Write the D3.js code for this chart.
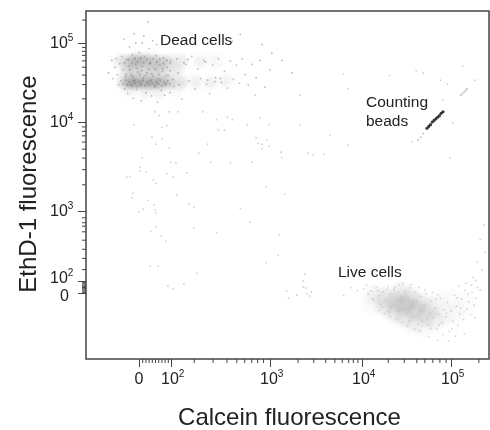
<!DOCTYPE html>
<html>
<head>
<meta charset="utf-8">
<script src="https://cdn.jsdelivr.net/npm/d3@7"></script>
<style>
  body { margin: 0; background: #fff; }
  text { font-family: "Liberation Sans", Arial, sans-serif; fill: #222; }
</style>
</head>
<body>
<div id="chart"></div>
<script>
// All values are in display channels: 0 = zero, 2 = 10^2, 3 = 10^3 ... (biexponential axis)
const xMajor = [0, 2, 3, 4, 5];
const xLabels = [["0", ""], ["10", "2"], ["10", "3"], ["10", "4"], ["10", "5"]];
const xMinor = [0.2, 0.4, 0.6, 0.8, 1, 1.2, 1.4, 1.6, 1.8,
  2.23, 2.42, 2.56, 2.66, 2.74, 2.81, 2.87, 2.93,
  3.3, 3.47, 3.6, 3.7, 3.78, 3.85, 3.9, 3.95,
  4.29, 4.47, 4.61, 4.7, 4.79, 4.87, 4.94, 5.31];

const yMajor = [0, 2, 3, 4, 5];
const yLabels = [["0", ""], ["10", "2"], ["10", "3"], ["10", "4"], ["10", "5"]];
const yMinor = [0.2, 0.4, 0.6, 0.8, 1, 1.2, 1.4, 1.6, 1.8,
  2.17, 2.33, 2.46, 2.59, 2.71, 2.79, 2.84, 2.91,
  3.3, 3.47, 3.6, 3.7, 3.78, 3.85, 3.9, 3.95,
  4.3, 4.48, 4.6, 4.7, 4.78, 4.85, 4.9, 4.95, 5.3];

// Smoothed population density, [calcein, ethd, weight]
const deadDensity = [
  [-0.9, 4.5, 0.5], [-0.5, 4.5, 0.8], [-0.1, 4.5, 0.85], [0.4, 4.5, 0.8], [0.9, 4.5, 0.85], [1.4, 4.5, 0.7],
  [1.9, 4.5, 0.55], [2.1, 4.5, 0.35], [2.25, 4.5, 0.2], [2.4, 4.5, 0.18], [2.55, 4.52, 0.18],
  [-1.3, 4.77, 0.15], [-0.9, 4.77, 0.3], [-0.5, 4.77, 0.5], [-0.1, 4.78, 0.65], [0.4, 4.78, 0.6], [0.9, 4.77, 0.55],
  [1.4, 4.76, 0.5], [1.9, 4.76, 0.35], [2.1, 4.77, 0.25], [2.3, 4.77, 0.18], [2.45, 4.77, 0.12],
  [-0.8, 4.65, 0.35], [-0.3, 4.65, 0.45], [0.3, 4.65, 0.45], [0.9, 4.65, 0.45], [1.5, 4.65, 0.4], [2.05, 4.65, 0.28],
  [-0.6, 4.4, 0.12], [0.4, 4.38, 0.18], [1.2, 4.38, 0.18], [2.05, 4.4, 0.1]
];
const liveDensity = [
  [4.15, -0.33, 0.2], [4.26, -0.83, 0.3], [4.37, -1.5, 0.45], [4.48, -2, 0.6], [4.6, -2.83, 0.5], [4.71, -3.67, 0.38],
  [4.82, -4.5, 0.28], [4.26, -2.2, 0.3], [4.37, -3.2, 0.38], [4.48, -4, 0.38], [4.6, -5, 0.28], [4.43, 0, 0.3],
  [4.54, -0.9, 0.4], [4.65, -1.7, 0.32], [4.76, -2.5, 0.28], [4.93, -3.4, 0.14], [5.04, -3.4, 0.1], [5.16, -2, 0.07],
  [4.12, -1.8, 0.1], [4.7, -5.6, 0.12], [4.85, -1.6, 0.1], [5, -1, 0.08]
];

// Individual events
const deadEvents = [
  [-1.9, 4.62], [-1.7, 4.78], [-1.62, 4.55], [-1.5, 4.69], [-1.44, 4.8], [-1.35, 4.6], [-1.28, 4.47], [-1.2, 4.74],
  [-1.12, 4.52], [-1.06, 4.83], [-0.98, 4.66], [-0.9, 4.42], [-0.84, 4.57], [-0.76, 4.79], [-0.7, 4.36], [-0.62, 4.71],
  [-0.55, 4.47], [-0.49, 4.6], [-0.41, 4.85], [-0.35, 4.3], [-0.27, 4.53], [-0.2, 4.73], [-0.14, 4.41], [-0.07, 4.63],
  [0.02, 4.88], [0.08, 4.46], [0.14, 4.27], [0.21, 4.7], [0.29, 4.56], [0.36, 4.82], [0.43, 4.37], [0.5, 4.62],
  [0.58, 4.51], [0.64, 4.93], [0.71, 4.75], [0.79, 4.33], [0.86, 4.58], [0.94, 4.68], [1.01, 4.44], [1.08, 4.84],
  [1.15, 4.25], [1.23, 4.55], [1.31, 4.72], [1.38, 4.4], [1.46, 4.64], [1.53, 4.81], [1.6, 4.34], [1.69, 4.49],
  [1.77, 4.69], [1.85, 4.59], [1.92, 4.37], [1.98, 4.78], [2.03, 4.45], [2.07, 4.62], [2.11, 4.29], [2.15, 4.73],
  [2.18, 4.52], [2.21, 4.83], [2.24, 4.42], [2.27, 4.67], [2.3, 4.55], [2.33, 4.78], [2.36, 4.48], [2.39, 4.36],
  [2.42, 4.72], [2.45, 4.56], [2.48, 4.8], [2.51, 4.5], [2.54, 4.64], [2.57, 4.43], [2.6, 4.77], [2.63, 4.54],
  [2.66, 4.72], [2.69, 4.49], [2.72, 4.8], [2.75, 4.6], [2.78, 4.47], [2.82, 4.73], [2.86, 4.56], [2.9, 4.78],
  [2.95, 4.44], [3.0, 4.66], [-0.95, 5.05], [-0.6, 4.95], [-0.3, 5.12], [0.2, 5.0], [0.55, 5.27], [0.85, 5.03],
  [1.1, 4.98], [1.45, 5.05], [2.62, 5.02], [2.7, 5.11], [2.92, 4.98], [3.02, 4.87], [3.13, 4.78], [3.24, 4.62],
  [-0.2, 5.0], [0.3, 5.09], [1.6, 5.1], [2.1, 5.0]
];
// Darker grain in the two dead-cell bands
const deadGrain = [
  [-1, 4.48], [-0.85, 4.53], [-0.72, 4.47], [-0.6, 4.51], [-0.47, 4.46], [-0.33, 4.52], [-0.22, 4.49], [-0.1, 4.45],
  [0.03, 4.51], [0.12, 4.48], [0.26, 4.53], [0.38, 4.46], [0.47, 4.5], [0.6, 4.47], [0.74, 4.53], [0.83, 4.49],
  [0.97, 4.46], [1.09, 4.51], [1.2, 4.48], [1.33, 4.53], [1.42, 4.46], [1.56, 4.5], [1.66, 4.47], [1.8, 4.52],
  [1.93, 4.48], [2.02, 4.54], [2.08, 4.47], [-0.8, 4.6], [-0.58, 4.66], [-0.4, 4.58], [-0.16, 4.68], [0.05, 4.6],
  [0.18, 4.65], [0.41, 4.59], [0.62, 4.67], [0.8, 4.61], [1.03, 4.66], [1.25, 4.6], [1.49, 4.67], [1.72, 4.59],
  [1.95, 4.65], [-0.9, 4.75], [-0.66, 4.79], [-0.45, 4.74], [-0.25, 4.8], [-0.08, 4.76], [0.1, 4.81], [0.3, 4.75],
  [0.48, 4.79], [0.68, 4.74], [0.89, 4.8], [1.1, 4.76], [1.3, 4.79], [1.52, 4.74], [1.74, 4.78], [1.96, 4.75],
  [2.06, 4.8], [2.13, 4.75], [2.17, 4.79], [2.35, 4.76], [2.37, 4.53], [2.44, 4.51], [2.5, 4.55]
];
const liveEvents = [
  [4.02, 0.7], [4.07, -0.2], [4.1, 0.35], [4.13, -1.1], [4.16, 0.9], [4.19, -0.5], [4.21, -1.9], [4.24, 0.2],
  [4.27, -1.3], [4.29, 1.1], [4.31, -0.2], [4.33, -2.4], [4.36, 0.6], [4.38, -1.1], [4.4, -3], [4.42, 1.3],
  [4.44, -0.6], [4.46, -1.8], [4.48, 0.3], [4.5, -3.6], [4.52, -1], [4.54, 0.9], [4.56, -2.4], [4.58, -4.1],
  [4.6, 0.1], [4.62, -1.5], [4.64, -3.1], [4.66, -0.6], [4.68, -4.7], [4.7, -2], [4.72, -0.1], [4.74, -5.4],
  [4.76, -3.4], [4.78, -1.4], [4.8, -4.2], [4.82, -2.5], [4.84, -6], [4.86, -3.6], [4.88, -0.9], [4.9, -5],
  [4.92, -2.8], [4.94, -4], [4.96, -1.6], [4.98, -6.4], [5, -3], [5.02, -4.7], [5.04, -0.4], [5.06, -2.2],
  [5.08, -5.4], [5.1, -3.5], [5.12, -1], [5.14, -4.4], [5.16, 0.4], [5.18, -2.7], [5.2, -1.5], [5.22, -3.6],
  [5.24, 0.1], [5.26, -2], [5.28, -0.8], [5.3, 0.9], [4.12, -0.9], [4.18, 0.4], [4.23, -2.4], [4.3, -3.1],
  [4.35, -1.9], [4.41, 0.2], [4.47, -2.7], [4.53, -4.6], [4.57, -1.2], [4.63, -5.2], [4.67, -2.9], [4.73, -4.3],
  [4.77, -5.9], [4.83, -1], [4.87, -5.3], [4.91, -6.9], [4.95, -3.4], [5.01, -6], [5.07, -0.8], [5.11, -2.5],
  [5.15, -6.8], [5.19, -0.2], [5.23, 1.3], [5.27, -4.1], [4.75, -7.3], [4.85, -7.9], [4.97, -8], [5.05, -7.2],
  [4.05, 1.3], [3.95, 0.4], [3.88, 0.9], [3.8, -0.4], [5.09, 1.2], [5.17, 1.6], [5.25, 2.05], [5.33, 0.5],
  [4.2, -2.9], [4.25, -3.4], [4.32, -3.9], [4.39, -4.4], [4.45, -4.9], [4.51, -5.5], [4.59, -6], [4.65, -6.3],
  [4.28, 0.6], [4.37, 1], [4.46, 1.6], [4.55, 1.4], [4.64, 0.9], [4.71, 0.5], [4.79, 0.1], [4.85, -0.3]
];
const beadEvents = [
  [4.73, 3.93], [4.75, 3.95], [4.77, 3.97], [4.79, 4], [4.81, 4.02], [4.83, 4.04], [4.85, 4.06], [4.87, 4.08], [4.89, 4.11], [4.91, 4.13]
];
const beadStray = [
  [4.66, 3.83], [4.63, 3.8], [4.69, 3.87], [5.11, 4.34], [5.13, 4.36], [5.15, 4.38], [5.17, 4.4], [5.18, 4.42]
];
const backgroundEvents = [
  [1, 4.13], [1.25, 4.08], [1.88, 4.13], [2.07, 4.13], [2.32, 4.13], [2.46, 4.03], [2.57, 4.06], [2.62, 4.03],
  [-0.31, 3.97], [1.44, 3.94], [1.75, 3.96], [2.48, 3.91], [2.54, 3.91], [2.77, 3.97], [2.9, 4.05], [2.99, 3.97],
  [0.81, 3.83], [1.44, 3.81], [1.06, 3.75], [1.88, 3.71], [2.37, 3.75], [2.86, 3.82], [2.88, 3.76], [2.92, 3.75],
  [2.97, 3.8], [2.99, 3.73], [2.92, 3.7], [2.28, 3.65], [3.12, 3.66], [3.13, 3.6], [3.41, 3.65], [3.47, 3.63],
  [3.59, 3.64], [0.19, 3.6], [2, 3.55], [2.05, 3.54], [2.4, 3.55], [2.6, 3.54], [2.82, 3.55], [0.06, 3.49],
  [0.06, 3.45], [0.44, 3.44], [2.16, 3.43], [1.75, 3.42], [-0.75, 3.38], [-0.56, 3.39], [2.02, 3.38], [0.88, 3.35],
  [1.06, 3.31], [-0.38, 3.2], [-0.44, 3.15], [2.06, 3.18], [3.16, 3.19], [2.96, 3.27], [0.56, 3.12], [0.94, 3.07],
  [2.18, 3.08], [2.23, 3.04], [2.7, 3.03], [0.25, 3.02], [0, 2.99], [1, 3.01], [1.06, 2.97], [2.8, 2.84],
  [1.06, 2.77], [0.75, 2.71], [2.23, 2.76], [2.46, 2.69], [1.38, 2.64], [1.69, 2.57], [3.1, 2.66], [3.09, 2.37],
  [2.96, 2.26], [0.69, 2.21], [1.19, 2.21], [2.26, 2.11], [1.81, 1.17], [2.02, 0.67], [2.13, 1.5], [3.38, 2.1],
  [3.36, 2], [3.36, 1], [3.39, 0.83], [3.45, 0.17], [3.18, 0.33], [3.29, -0.33], [3.4, -0.17], [3.43, -0.5],
  [3.2, -0.83], [5.13, 4.71], [5.27, 4.53], [4.96, 4.48], [4.69, 4.62], [4.61, 4.65], [4.88, 4.53], [4.31, 4.59],
  [3.8, 4.61], [3.85, 4.42], [4.91, 4.28], [4.56, 3.78], [5.02, 3.99], [4.99, 3.6], [3.85, 3.74], [2.85, 4.34],
  [3.33, 4.34], [3.65, 3.85], [3.33, 3.97], [5.37, 2.8], [5.33, 2.59], [5.39, 2.41], [5.3, 2.27], [5.35, 2.16],
  [5.28, 2.01]
];

const width = 490, height = 430;
const svg = d3.select("#chart").append("svg").attr("width", width).attr("height", height);

// Axes are biexponential, so each decade gets its own stretch of the range
const x = d3.scaleLinear().domain([-3.31, 0, 2, 3, 4, 5, 5.43]).range([86, 139, 171, 270, 362, 451, 489]);
const y = d3.scaleLinear().domain([-11, 0, 2, 3, 4, 5, 5.41]).range([359, 293, 281, 211, 122, 43, 11]);

const defs = svg.append("defs");
defs.append("filter").attr("id", "soft").attr("x", "-20%").attr("y", "-20%").attr("width", "140%").attr("height", "140%")
  .append("feGaussianBlur").attr("stdDeviation", 2.2);
defs.append("filter").attr("id", "grain")
  .append("feGaussianBlur").attr("stdDeviation", 0.5);

function drawDensity(data, color, radius, scale) {
  svg.append("g").attr("filter", "url(#soft)")
    .selectAll("circle").data(data).join("circle")
    .attr("cx", d => x(d[0])).attr("cy", d => y(d[1]))
    .attr("r", radius)
    .attr("fill", color)
    .attr("opacity", d => d[2] * scale);
}

function drawEvents(data, color, radius, opacity) {
  svg.append("g").attr("filter", "url(#grain)")
    .selectAll("circle").data(data).join("circle")
    .attr("cx", d => x(d[0])).attr("cy", d => y(d[1]))
    .attr("r", radius)
    .attr("fill", color)
    .attr("opacity", opacity);
}

drawDensity(deadDensity, "#777", 6.5, 0.55);
drawDensity(liveDensity, "#aaa", 10, 0.6);
drawEvents(backgroundEvents, "#aaa", 0.9, 0.55);
drawEvents(deadEvents, "#888", 0.9, 0.55);
drawEvents(deadGrain, "#555", 1, 0.35);
drawEvents(liveEvents, "#bbb", 0.9, 0.6);
drawEvents(beadEvents, "#222", 1.6, 0.9);
drawEvents(beadStray, "#999", 0.9, 0.7);

// Plot frame
svg.append("rect")
  .attr("x", 86).attr("y", 11).attr("width", 403).attr("height", 348)
  .attr("fill", "none").attr("stroke", "#444").attr("stroke-width", 1.5);

// Axes
function styleAxis(g) {
  g.select(".domain").remove();
  g.selectAll("line").attr("stroke", "#444").attr("stroke-width", 1);
  g.selectAll("text").remove();
}

svg.append("g").attr("transform", "translate(0,359)")
  .call(d3.axisBottom(x).tickValues(xMajor).tickSize(8)).call(styleAxis);
svg.append("g").attr("transform", "translate(0,359)")
  .call(d3.axisBottom(x).tickValues(xMinor).tickSize(4)).call(styleAxis);
svg.append("g").attr("transform", "translate(86,0)")
  .call(d3.axisLeft(y).tickValues(yMajor).tickSize(8)).call(styleAxis);
svg.append("g").attr("transform", "translate(86,0)")
  .call(d3.axisLeft(y).tickValues(yMinor).tickSize(4)).call(styleAxis);

function addPower(sel) {
  sel.append("tspan").text(d => d[0]);
  sel.append("tspan").attr("dy", -7).attr("font-size", 10).text(d => d[1]);
}

svg.append("g").selectAll("text").data(xLabels).join("text")
  .attr("x", (d, i) => x(xMajor[i]) - (i === 0 ? 4.5 : 10))
  .attr("y", 384)
  .attr("font-size", 16)
  .call(addPower);

svg.append("g").selectAll("text").data(yLabels).join("text")
  .attr("x", (d, i) => i === 0 ? 60 : 50)
  .attr("y", (d, i) => y(yMajor[i]) + (i === 0 ? 8 : i === 1 ? 2 : 5))
  .attr("font-size", 16)
  .call(addPower);

// Titles and population labels
svg.append("text").attr("x", 289.5).attr("y", 425).attr("text-anchor", "middle")
  .attr("font-size", 24).text("Calcein fluorescence");
svg.append("text").attr("transform", "translate(36,184) rotate(-90)").attr("text-anchor", "middle")
  .attr("font-size", 24).text("EthD-1 fluorescence");

svg.append("text").attr("x", 160).attr("y", 45).attr("font-size", 15.5).text("Dead cells");
svg.append("text").attr("x", 366).attr("y", 107).attr("font-size", 15.5).text("Counting");
svg.append("text").attr("x", 366).attr("y", 126).attr("font-size", 15.5).text("beads");
svg.append("text").attr("x", 338).attr("y", 277).attr("font-size", 15.5).text("Live cells");
</script>
</body>
</html>
